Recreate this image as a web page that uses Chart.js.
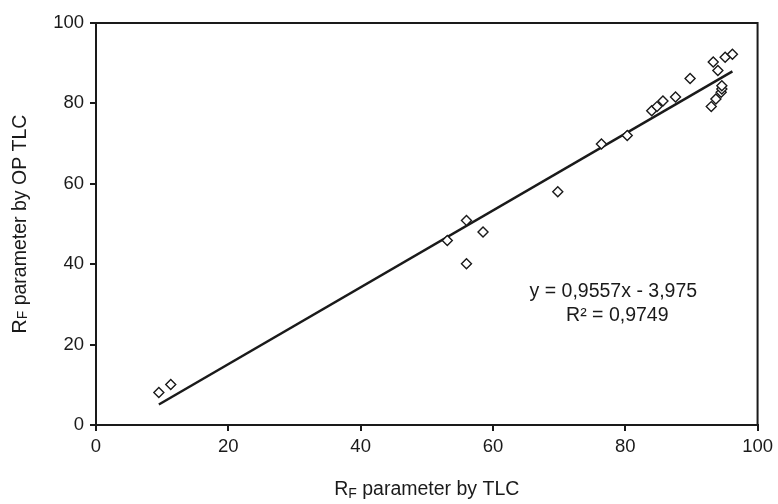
<!DOCTYPE html>
<html>
<head>
<meta charset="utf-8">
<script src="https://cdn.jsdelivr.net/npm/chart.js@4/dist/chart.umd.min.js"></script>
<style>
  html, body { margin: 0; padding: 0; background: #fff; }
  #wrap { width: 778px; height: 504px; }
</style>
</head>
<body>
<div id="wrap"><canvas id="myChart"></canvas></div>
<script>
// values
const rfTLC   = [9.5, 11.3, 53.1, 56.0, 58.5, 56.0, 69.8, 76.4, 80.3, 84.0, 84.8, 85.7, 87.6, 89.8, 93.0, 93.7, 94.5, 94.6, 94.6, 93.3, 94.0, 95.1, 96.2];
const rfOPTLC = [8.1, 10.1, 45.9, 50.9, 48.0, 40.1, 58.0, 69.9, 72.0, 78.2, 79.2, 80.6, 81.6, 86.2, 79.2, 81.1, 82.8, 83.6, 84.4, 90.3, 88.2, 91.5, 92.2];
const slope = 0.9557;
const intercept = -3.975;
const eqText = "y = 0,9557x - 3,975";
const r2Text = "R\u00B2 = 0,9749";
const axisTicks = [0, 20, 40, 60, 80, 100];

const FONT = "'Liberation Sans', Arial, sans-serif";
const INK = '#1a1a1a';

const points = rfTLC.map((x, i) => ({ x: x, y: rfOPTLC[i] }));
const xMin = Math.min(...rfTLC);
const xMax = Math.max(...rfTLC);
const trend = [
    { x: xMin, y: slope * xMin + intercept },
    { x: xMax, y: slope * xMax + intercept }
];

// draws "R" + small "F" + rest, centred at (0,0) of current transform
function drawRF(ctx, rest, size, subSize, drop) {
    ctx.font = size + 'px ' + FONT;
    const wR = ctx.measureText('R').width;
    const wRest = ctx.measureText(rest).width;
    ctx.font = subSize + 'px ' + FONT;
    const wF = ctx.measureText('F').width;
    const total = wR + wF + wRest;
    let x = -total / 2;
    ctx.textAlign = 'left';
    ctx.textBaseline = 'middle';
    ctx.font = size + 'px ' + FONT;
    ctx.fillText('R', x, 0);
    x += wR;
    ctx.font = subSize + 'px ' + FONT;
    ctx.fillText('F', x, drop);
    x += wF;
    ctx.font = size + 'px ' + FONT;
    ctx.fillText(rest, x, 0);
}

const decor = {
    id: 'decor',
    afterDraw(chart) {
        const ctx = chart.ctx;
        const a = chart.chartArea;
        const xs = chart.scales.x, ys = chart.scales.y;
        ctx.save();
        // frame top + right
        ctx.strokeStyle = INK;
        ctx.lineWidth = 2;
        ctx.beginPath();
        ctx.moveTo(a.left, a.top);
        ctx.lineTo(a.right, a.top);
        ctx.lineTo(a.right, a.bottom);
        ctx.stroke();

        ctx.fillStyle = INK;
        // x title
        ctx.save();
        ctx.translate((a.left + a.right) / 2, 490);
        drawRF(ctx, ' parameter by TLC', 19.5, 14, 4);
        ctx.restore();
        // y title
        ctx.save();
        ctx.translate(21, (a.top + a.bottom) / 2);
        ctx.rotate(-Math.PI / 2);
        drawRF(ctx, ' parameter by OP TLC', 19.5, 14, 2);
        ctx.restore();

        // regression equation
        ctx.font = '19.5px ' + FONT;
        ctx.textAlign = 'center';
        ctx.textBaseline = 'middle';
        ctx.fillText(eqText, xs.getPixelForValue(78.2), ys.getPixelForValue(33.3));
        ctx.fillText(r2Text, xs.getPixelForValue(78.8), ys.getPixelForValue(27.2));
        ctx.restore();
    }
};

const ctx = document.getElementById('myChart').getContext('2d');
new Chart(ctx, {
    type: 'scatter',
    data: {
        datasets: [
            {
                label: 'RF',
                data: points,
                pointStyle: 'rectRot',
                pointRadius: 5,
                pointBorderWidth: 1.4,
                pointBorderColor: INK,
                pointBackgroundColor: '#fff',
                showLine: false
            },
            {
                label: 'trend',
                data: trend,
                showLine: true,
                borderColor: INK,
                borderWidth: 2.5,
                pointRadius: 0,
                fill: false
            }
        ]
    },
    options: {
        responsive: true,
        maintainAspectRatio: false,
        animation: false,
        layout: { padding: { top: 23, right: 18, left: 0, bottom: 0 } },
        plugins: {
            legend: { display: false },
            tooltip: { enabled: false }
        },
        scales: {
            x: {
                type: 'linear',
                min: 0,
                max: 100,
                afterBuildTicks: (s) => { s.ticks = axisTicks.map(v => ({ value: v })); },
                afterFit: (s) => { s.height = 79; },
                grid: { drawOnChartArea: false, tickLength: 6, color: INK, lineWidth: 2 },
                border: { color: INK, width: 2 },
                ticks: { color: INK, font: { family: FONT, size: 18.5 }, padding: 5, maxRotation: 0 }
            },
            y: {
                type: 'linear',
                min: 0,
                max: 100,
                afterBuildTicks: (s) => { s.ticks = axisTicks.map(v => ({ value: v })); },
                afterFit: (s) => { s.width = 96; },
                grid: { drawOnChartArea: false, tickLength: 6, color: INK, lineWidth: 2 },
                border: { color: INK, width: 2 },
                ticks: { color: INK, font: { family: FONT, size: 18.5 }, padding: 6 }
            }
        }
    },
    plugins: [decor]
});
</script>
</body>
</html>
